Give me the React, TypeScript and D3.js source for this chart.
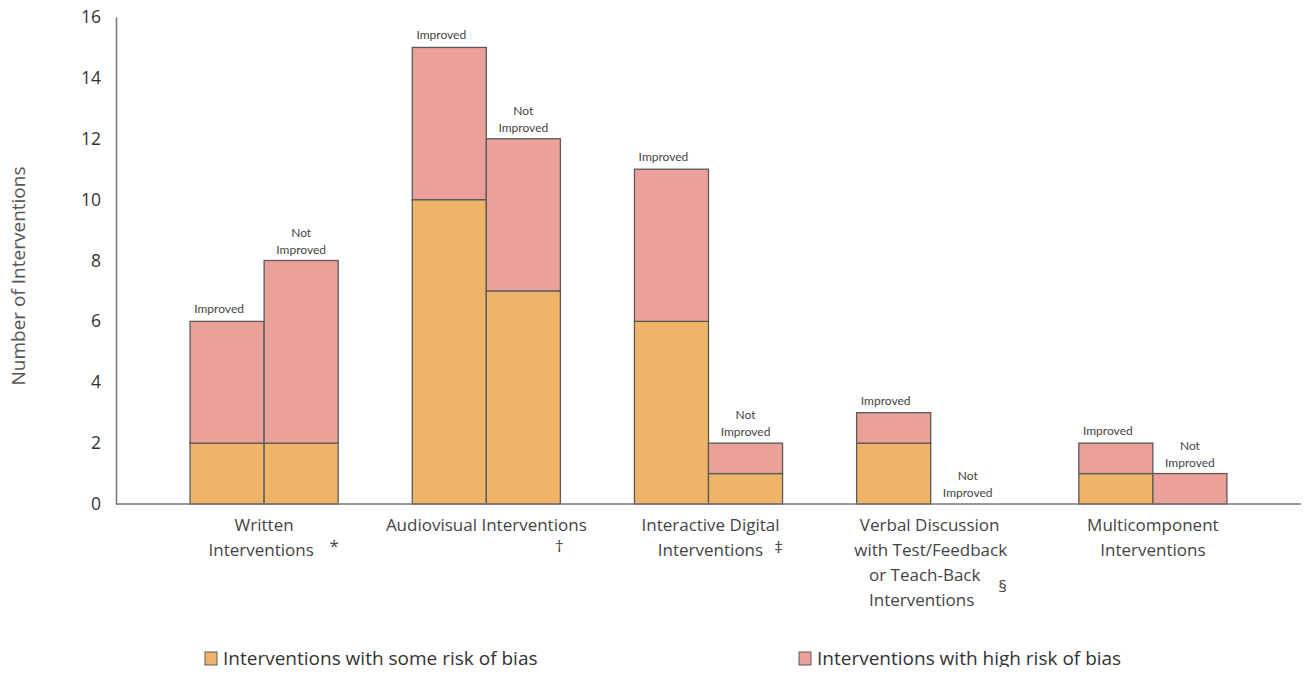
import React, { useRef, useEffect } from 'react';
import * as d3 from 'd3';

// Chart data
const categories = ['Written', 'Audiovisual', 'Interactive', 'Verbal', 'Multicomponent'];
const outcomes = ['Improved', 'Not Improved'];
// [category][outcome]
const someRisk = [[2, 2], [10, 7], [6, 1], [2, 0], [1, 0]];
const highRisk = [[4, 6], [5, 5], [5, 1], [1, 0], [1, 1]];
const yTicks = [0, 2, 4, 6, 8, 10, 12, 14, 16];
const categoryLines = [
  ['Written', 'Interventions'],
  ['Audiovisual Interventions'],
  ['Interactive Digital', 'Interventions'],
  ['Verbal Discussion', 'with Test/Feedback', 'or Teach-Back', 'Interventions'],
  ['Multicomponent', 'Interventions'],
];
const footnotes = ['*', '†', '‡', '§', ''];
const seriesNames = ['Interventions with some risk of bias', 'Interventions with high risk of bias'];

const ORANGE = '#EFB467';
const PINK = '#EBA09A';
const STROKE = '#5a5a5a';

const App: React.FC = () => {
  const svgRef = useRef<SVGSVGElement>(null);
  const width = 1309;
  const height = 675;

  useEffect(() => {
    if (!svgRef.current) return;
    const svg = d3.select(svgRef.current);
    svg.selectAll('*').remove();

    const font = '"Open Sans", Lato, sans-serif';
    const smallFont = 'Lato, "Open Sans", sans-serif';

    const x = d3.scaleBand<string>()
      .domain(categories)
      .range([116, 1301])
      .paddingInner(1 / 3)
      .paddingOuter(1 / 3);

    const xSub = d3.scaleBand<string>()
      .domain(outcomes)
      .range([0, x.bandwidth()]);

    const y = d3.scaleLinear().domain([0, 16]).range([504, 17]);

    // Y axis
    const yAxis = svg.append('g')
      .attr('transform', 'translate(116,0)')
      .call(d3.axisLeft(y).tickValues(yTicks).tickSize(0).tickPadding(15));
    yAxis.select('.domain').attr('stroke', '#777').attr('stroke-width', 1.5);
    yAxis.selectAll('text')
      .style('font-family', font)
      .style('font-size', '17.5px')
      .attr('fill', '#333');

    // Axis title
    svg.append('text')
      .attr('transform', 'translate(25,276) rotate(-90)')
      .attr('text-anchor', 'middle')
      .style('font-family', font)
      .style('font-size', '19px')
      .attr('fill', '#555')
      .text('Number of Interventions');

    // Bars
    categories.forEach((cat, ci) => {
      outcomes.forEach((out, oi) => {
        const x0 = (x(cat) || 0) + (xSub(out) || 0);
        const w = xSub.bandwidth();
        const s = someRisk[ci][oi];
        const h = highRisk[ci][oi];
        if (s > 0) {
          svg.append('rect')
            .attr('x', x0).attr('y', y(s))
            .attr('width', w).attr('height', y(0) - y(s))
            .attr('fill', ORANGE).attr('stroke', STROKE).attr('stroke-width', 1.3);
        }
        if (h > 0) {
          svg.append('rect')
            .attr('x', x0).attr('y', y(s + h))
            .attr('width', w).attr('height', y(s) - y(s + h))
            .attr('fill', PINK).attr('stroke', STROKE).attr('stroke-width', 1.3);
        }
        const top = y(s + h);
        const cx = x0 + w / 2;
        const lbl = svg.append('g')
          .style('font-family', smallFont)
          .style('font-size', '12px')
          .attr('fill', '#444')
          .attr('text-anchor', 'middle');
        if (out === 'Improved') {
          lbl.append('text').attr('x', cx - 8).attr('y', top - 8).text('Improved');
        } else {
          lbl.append('text').attr('x', cx).attr('y', top - 24).text('Not');
          lbl.append('text').attr('x', cx).attr('y', top - 7).text('Improved');
        }
      });
    });

    // Baseline
    svg.append('line')
      .attr('x1', 116).attr('x2', 1301)
      .attr('y1', y(0)).attr('y2', y(0))
      .attr('stroke', '#777').attr('stroke-width', 1.5);

    // Category labels
    const lineOffsets: number[][] = [[0, -3], [0], [2, 2], [-1, 0, -6, -9], [0, 0]];
    const noteOffsets = [[70, 21], [73, 21], [70, 22], [72, 61], [0, 0]];
    categories.forEach((cat, ci) => {
      const cx = (x(cat) || 0) + x.bandwidth() / 2;
      const g = svg.append('g')
        .style('font-family', font)
        .style('font-size', '17px')
        .attr('fill', '#444')
        .attr('text-anchor', 'middle');
      categoryLines[ci].forEach((line, li) => {
        g.append('text')
          .attr('x', cx + lineOffsets[ci][li])
          .attr('y', 531 + li * 25)
          .text(line);
      });
      if (footnotes[ci]) {
        g.append('text')
          .attr('x', cx + noteOffsets[ci][0])
          .attr('y', 531 + noteOffsets[ci][1])
          .text(footnotes[ci]);
      }
    });

    // Legend
    const legendX = [205, 799];
    seriesNames.forEach((name, i) => {
      const g = svg.append('g').attr('transform', `translate(${legendX[i]},652)`);
      g.append('rect')
        .attr('width', 12).attr('height', 13)
        .attr('fill', i === 0 ? ORANGE : PINK)
        .attr('stroke', STROKE).attr('stroke-width', 1);
      g.append('text')
        .attr('x', 18).attr('y', 13)
        .style('font-family', font)
        .style('font-size', '19px')
        .attr('fill', '#333')
        .text(name);
    });
  }, []);

  return <svg ref={svgRef} width={width} height={height} style={{ display: 'block', margin: '-8px', background: '#fff' }} />;
};

export default App;
